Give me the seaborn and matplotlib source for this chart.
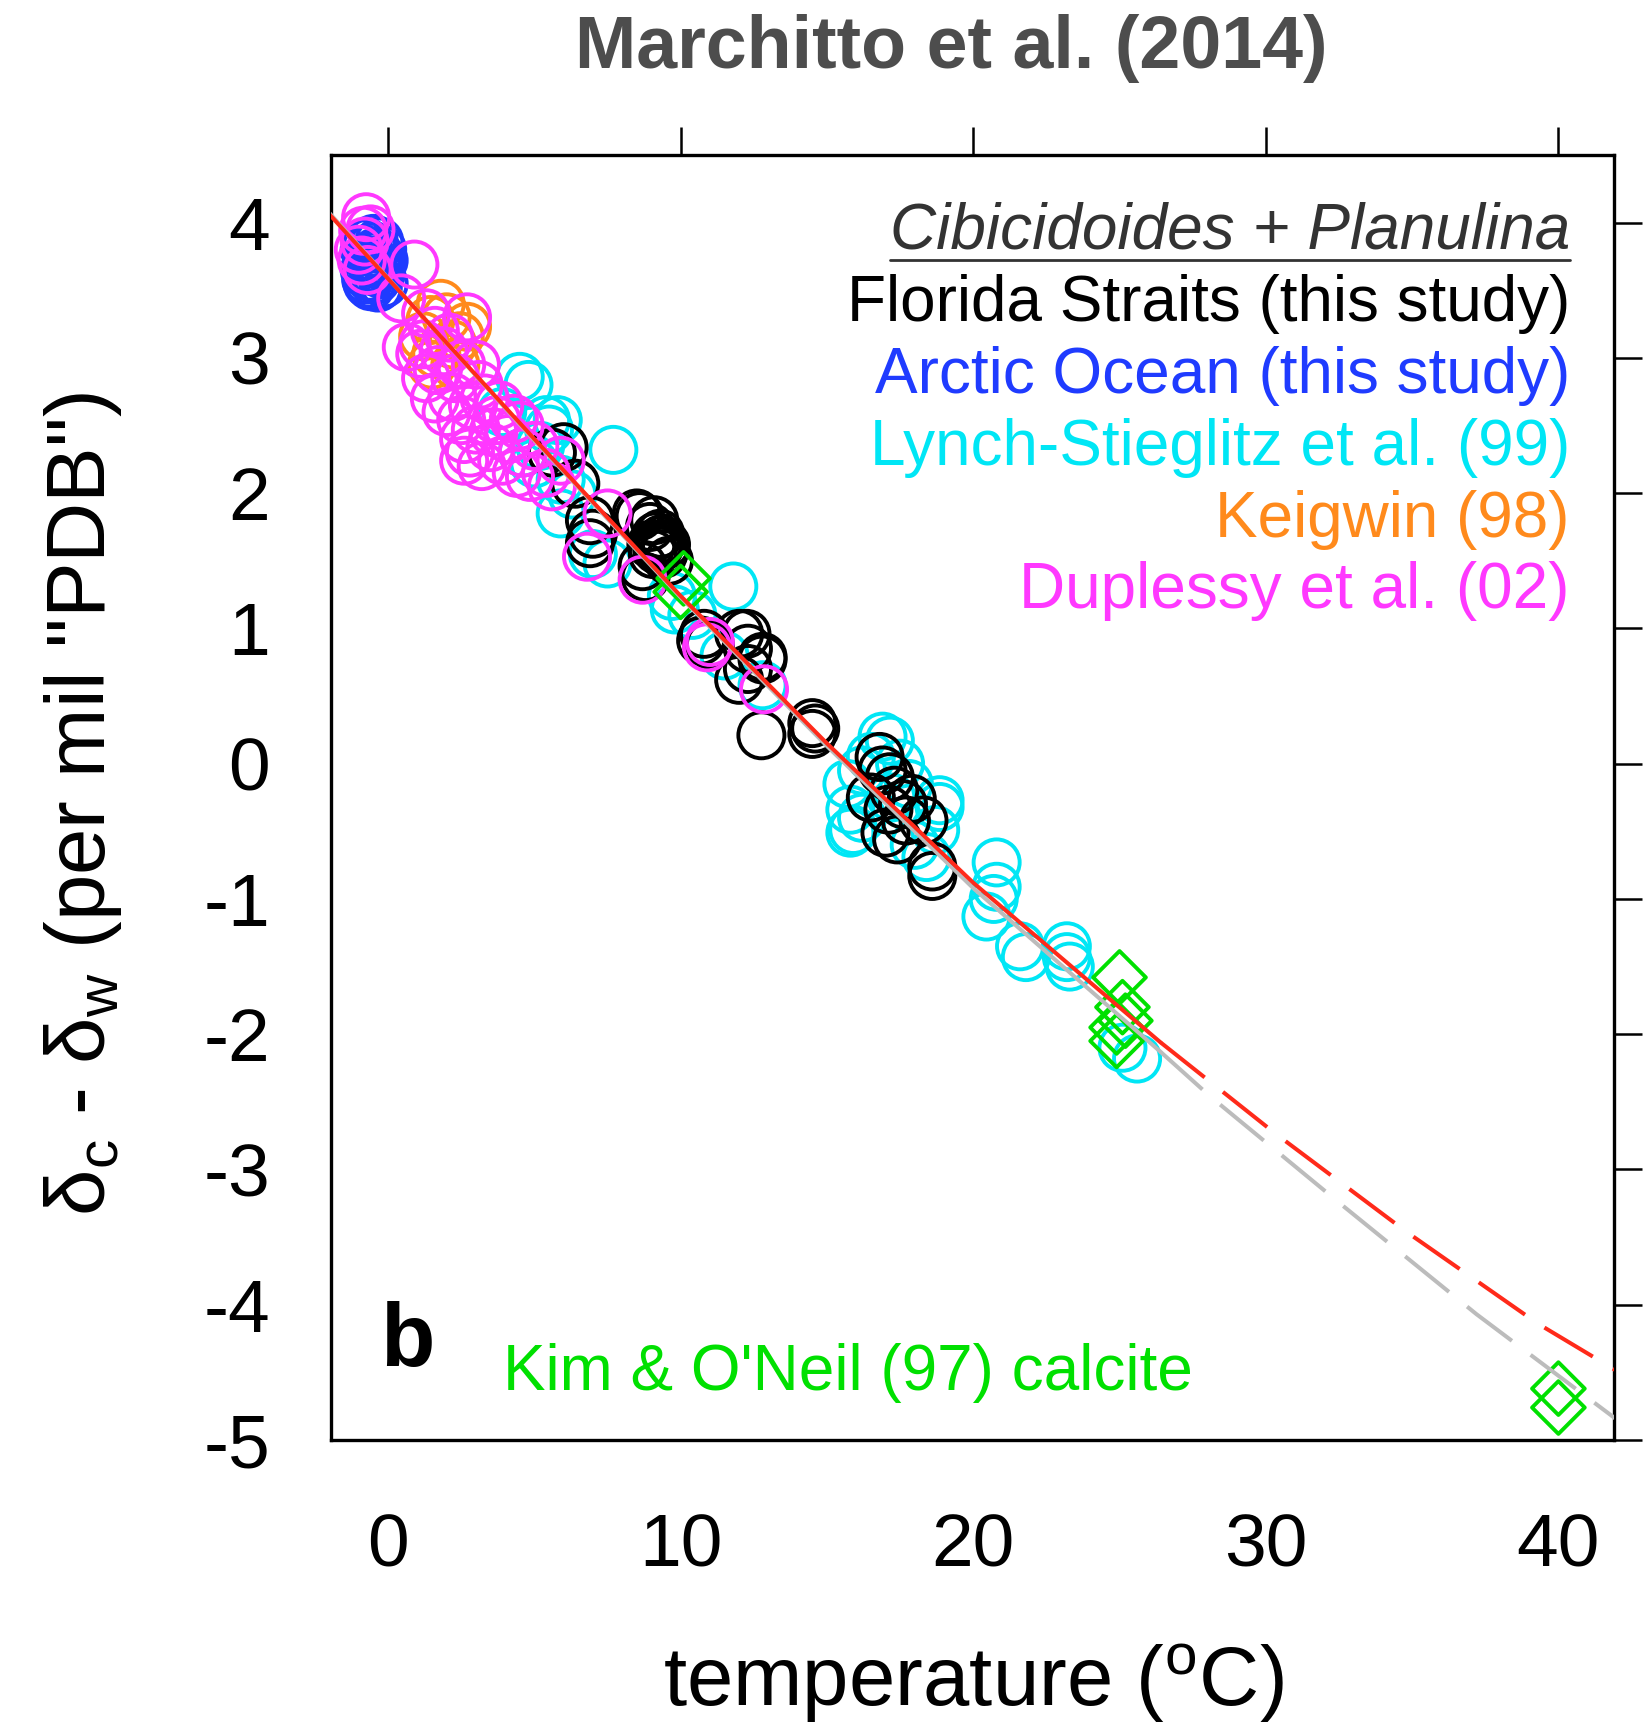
import numpy as np
import pandas as pd
import matplotlib
matplotlib.use("Agg")
import matplotlib.pyplot as plt
from matplotlib.lines import Line2D
import seaborn as sns

sns.set_style("white")
plt.rcParams["font.family"] = ["Liberation Sans", "DejaVu Sans"]
plt.rcParams["mathtext.fontset"] = "custom"
plt.rcParams["mathtext.rm"] = "Liberation Sans"
plt.rcParams["mathtext.it"] = "Liberation Sans:italic"
plt.rcParams["axes.unicode_minus"] = False

# ---------------- data ----------------
florida_T = [5.6, 6.0, 6.4, 6.9, 7.0, 6.9, 8.5, 8.6, 8.95, 9.1, 9.3, 9.3, 9.0, 9.2, 9.5, 9.4,
             8.7, 8.8, 9.6, 10.7, 10.8, 11.0, 12.0, 12.25, 12.3, 12.8, 12.0, 12.3, 12.8, 12.76,
             14.5, 14.5, 14.6, 16.8, 17.15, 16.5, 17.1, 17.7, 17.0, 17.4, 17.6, 17.9, 18.3,
             18.6, 18.6, 16.9, 17.3, 9.25, 9.35, 9.15, 9.45, 9.05, 9.3]
florida_D = [2.30, 2.34, 2.07, 1.80, 1.70, 1.63, 1.85, 1.83, 1.75, 1.80, 1.70, 1.65, 1.62, 1.58, 1.62, 1.55,
             1.46, 1.38, 1.50, 0.91, 0.96, 0.88, 0.96, 0.96, 0.85, 0.79, 0.62, 0.70, 0.77, 0.21,
             0.30, 0.22, 0.26, 0.05, -0.10, -0.25, -0.34, -0.42, -0.51, -0.56, -0.30, -0.26, -0.42,
             -0.76, -0.83, -0.05, -0.20, 1.60, 1.66, 1.68, 1.58, 1.55, 1.62]

arctic_T = [-0.8, -0.7, -0.5, -0.3, -0.6, -0.4, -0.15, -0.8, -0.4, -0.6, -0.15, -0.75, -0.25, -0.55,
            -0.45, -0.35, -0.65, -0.2, -0.5, -0.3, -0.7, -0.55, -0.35, -0.25, -0.6]
arctic_D = [3.80, 3.85, 3.88, 3.86, 3.75, 3.70, 3.72, 3.65, 3.58, 3.53, 3.55, 3.58, 3.62, 3.70,
            3.78, 3.66, 3.60, 3.80, 3.64, 3.76, 3.55, 3.82, 3.52, 3.68, 3.72]

lynch_T = [4.5, 4.8, 5.4, 5.8, 7.7, 5.5, 5.9, 5.9, 6.3, 7.5, 7.0, 4.6, 5.0, 9.8, 9.7, 11.8, 12.8,
           11.5, 10.4, 17.15, 16.9, 15.7, 15.8, 15.8, 15.9, 16.2, 16.5, 17.5, 18.85, 18.7, 18.4,
           18.85, 17.2, 17.8, 16.2, 18.0, 20.8, 20.8, 20.45, 20.7, 21.6, 21.8, 23.2, 23.2, 23.3,
           25.6, 25.1, 3.9, 5.2]
lynch_D = [2.86, 2.80, 2.54, 2.54, 2.32, 2.47, 2.10, 1.85, 1.99, 1.48, 1.55, 2.30, 2.22, 1.14, 1.24, 1.31, 0.58,
           0.80, 1.10, 0.17, 0.20, -0.15, -0.34, -0.51, -0.49, -0.05, 0.05, 0.00, -0.32, -0.49, -0.69,
           -0.27, -0.25, -0.15, -0.40, -0.60, -0.73, -0.91, -1.13, -1.00, -1.35, -1.43, -1.35, -1.43, -1.50,
           -2.18, -2.10, 2.60, 2.35]

keigwin_T = [1.8, 1.45, 2.7, 1.2, 1.65, 2.45, 2.0, 2.2, 1.5, 2.3]
keigwin_D = [3.40, 3.28, 3.23, 3.16, 3.03, 3.16, 3.30, 3.10, 2.95, 2.95]

duplessy_T = [-0.75, -0.85, -0.8, -0.9, -0.7, -1.0, -0.6, 0.9, 0.45, 1.3, 2.7, 1.2, 1.1, 1.6, 1.9,
              1.7, 2.2, 2.5, 2.8, 3.0, 3.5, 3.9, 4.4, 4.85, 3.7, 2.3, 2.9, 3.3, 3.6, 4.1, 4.3, 3.2,
              2.6, 4.6, 5.0, 5.4, 5.9, 5.6, 7.5, 6.8, 8.7, 10.9, 11.0, 12.85, 3.0, 2.0, 0.64, 1.6,
              1.3, 2.6, 2.5, 3.1, 3.8, 4.5, 2.1]
duplessy_D = [4.04, 3.94, 3.86, 3.72, 3.65, 3.80, 3.95, 3.69, 3.44, 3.33, 3.30, 3.10, 3.03, 3.20, 3.05,
              2.91, 2.71, 2.54, 2.30, 2.47, 2.34, 2.24, 2.15, 2.12, 2.54, 2.85, 2.65, 2.70, 2.45, 2.40, 2.55, 2.20,
              2.40, 2.30, 2.35, 2.15, 2.24, 2.05, 1.85, 1.53, 1.36, 0.86, 0.90, 0.55, 2.95, 2.60, 3.08, 2.70,
              2.85, 2.24, 2.95, 2.80, 2.65, 2.50, 3.15]

kim_T = [10.1, 10.0, 25.0, 25.1, 24.9, 24.9, 25.2, 40.0, 40.0]
kim_D = [1.37, 1.27, -1.58, -1.80, -1.95, -2.05, -1.90, -4.62, -4.76]

fit_T = [-2, 5, 10, 15, 20, 26.4, 30.3, 34.8, 39.3, 42]
fit_D = [4.06, 2.40, 1.24, 0.15, -0.88, -2.06, -2.73, -3.46, -4.14, -4.49]
ko_T = [-2, 5, 10, 15, 20, 26.4, 28.1, 32.7, 37.2, 42]
ko_D = [4.07, 2.39, 1.23, 0.13, -0.92, -2.13, -2.46, -3.28, -4.07, -4.85]
dash_start = 26.4

legend_labels = ["Florida Straits (this study)", "Arctic Ocean (this study)",
                 "Lynch-Stieglitz et al. (99)", "Keigwin (98)", "Duplessy et al. (02)"]
x_ticks = [0, 10, 20, 30, 40]
y_ticks = [-5, -4, -3, -2, -1, 0, 1, 2, 3, 4]

# ---------------- styling ----------------
C_BLACK = "#000000"
C_BLUE = "#1f3bff"
C_CYAN = "#00e6f5"
C_ORANGE = "#ff8a1c"
C_MAGENTA = "#ff38ff"
C_GREEN = "#00e000"
C_RED = "#ff2a1a"
C_GRAY = "#bcbcbc"

W, H = 1646, 1728
fig = plt.figure(figsize=(W / 100, H / 100), dpi=100)
ax = fig.add_axes([331 / W, 1 - 1440 / H, 1283 / W, 1285 / H])

def open_circles(T, D, col, z):
    sns.scatterplot(x=T, y=D, ax=ax, s=1100, marker="o", color=col,
                    linewidth=2.8, legend=False, zorder=z)
    coll = ax.collections[-1]
    coll.set_facecolor("none")
    coll.set_edgecolor(col)

open_circles(lynch_T, lynch_D, C_CYAN, 2)
open_circles(florida_T, florida_D, C_BLACK, 3)
open_circles(arctic_T, arctic_D, C_BLUE, 4)
open_circles(keigwin_T, keigwin_D, C_ORANGE, 5)
open_circles(duplessy_T, duplessy_D, C_MAGENTA, 6)

sns.scatterplot(x=kim_T, y=kim_D, ax=ax, s=720, marker="D", color=C_GREEN,
                linewidth=2.8, legend=False, zorder=7)
coll = ax.collections[-1]
coll.set_facecolor("none")
coll.set_edgecolor(C_GREEN)

fit = pd.DataFrame({"T": fit_T, "D": fit_D})
ko = pd.DataFrame({"T": ko_T, "D": ko_D})

def draw_line(df, col, lw, z):
    solid = df[df["T"] <= dash_start]
    dashed = df[df["T"] >= dash_start]
    sns.lineplot(data=solid, x="T", y="D", ax=ax, color=col, linewidth=lw,
                 estimator=None, sort=False, zorder=z)
    sns.lineplot(data=dashed, x="T", y="D", ax=ax, color=col, linewidth=lw,
                 estimator=None, sort=False, zorder=z)
    ax.lines[-1].set_linestyle((0, (14, 5.8)))

draw_line(ko, C_GRAY, 2.9, 8)
draw_line(fit, C_RED, 2.9, 9)

ax.set_xlim(-1.95, 41.9)
ax.set_ylim(-5, 4.5)
ax.set_xticks(x_ticks)
ax.set_yticks(y_ticks)
ax.set_xticklabels([str(v) for v in x_ticks])
ax.set_yticklabels([str(v) for v in y_ticks])
ax.set_xlabel("")
ax.set_ylabel("")
ax.tick_params(axis="both", which="both", direction="out", length=20, width=1.8,
               colors="black", top=True, right=True, labeltop=False, labelright=False,
               labelsize=54)
ax.tick_params(axis="x", pad=32)
ax.tick_params(axis="y", pad=24)
for sp in ax.spines.values():
    sp.set_visible(True)
    sp.set_linewidth(2.4)
    sp.set_color("black")

# legend-like annotations
tit = ax.text(0.9657, 0.9276, "Cibicidoides + Planulina", transform=ax.transAxes,
              ha="right", va="baseline", fontsize=46, style="italic", color="#333333")
leg_colors = [C_BLACK, C_BLUE, C_CYAN, C_ORANGE, C_MAGENTA]
leg_y = [0.8708, 0.8148, 0.7588, 0.7027, 0.6475]
for lab, col, yy in zip(legend_labels, leg_colors, leg_y):
    ax.text(0.9657, yy, lab, transform=ax.transAxes, ha="right", va="baseline",
            fontsize=46, color=col)

ax.text(0.038, 0.0576, "b", transform=ax.transAxes, ha="left", va="baseline",
        fontsize=64, fontweight="bold", color="black")
ax.text(0.134, 0.039, "Kim & O'Neil (97) calcite", transform=ax.transAxes,
        ha="left", va="baseline", fontsize=46, color=C_GREEN)

fig.text(951 / W, 1 - 68 / H, "Marchitto et al. (2014)", ha="center", va="baseline",
         fontsize=53, fontweight="bold", color="#4d4d4d")
fig.text(83 / W, 1 - 804 / H, 'δ$_\\mathrm{c}$ - δ$_\\mathrm{w}$ (per mil "PDB")',
         rotation=90, ha="center", va="center", fontsize=60, color="black")
fig.text(973 / W, 1 - 1683 / H, "temperature ($^\\mathrm{o}$C)", ha="center",
         va="center", fontsize=60, color="black")

# underline for the italic heading
fig.canvas.draw()
bb = tit.get_window_extent(fig.canvas.get_renderer())
inv = ax.transAxes.inverted()
(x0, _), (x1, _) = inv.transform([[bb.x0, bb.y0], [bb.x1, bb.y0]])
ax.add_line(Line2D([x0, x1], [0.9183, 0.9183], transform=ax.transAxes,
                   color="#333333", linewidth=2.0, clip_on=False))

fig.savefig("out.png", dpi=100)
